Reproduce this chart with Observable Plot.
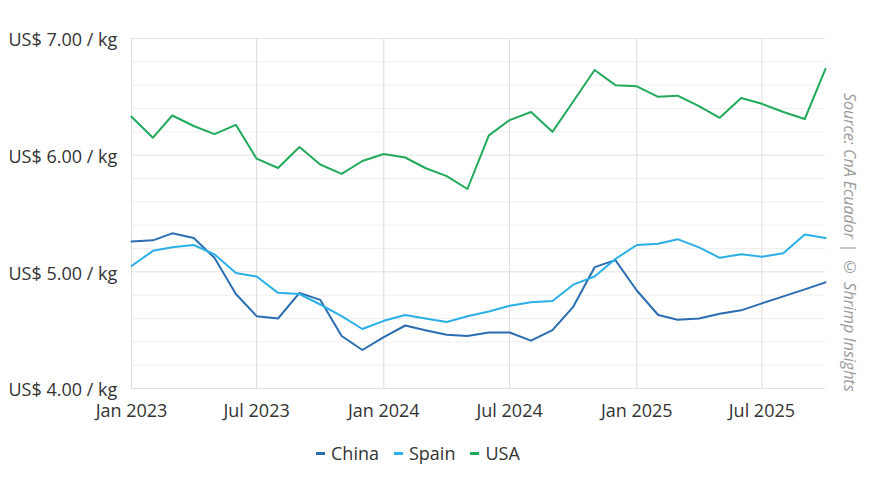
<!DOCTYPE html>
<html><head><meta charset="utf-8">
<script src="https://cdn.jsdelivr.net/npm/d3@7"></script>
<script src="https://cdn.jsdelivr.net/npm/@observablehq/plot@0.6"></script>
<style>
body{margin:0;background:#fff;font-family:"Open Sans",sans-serif;}
#wrap{position:relative;width:870px;height:489px;overflow:hidden;}
#legend{position:absolute;left:316px;top:441px;display:flex;align-items:center;font-size:18px;color:#333;line-height:24px;}
#legend .item{display:flex;align-items:center;margin-right:15px;}
#legend .sw{width:9px;height:3px;margin-right:6px;}
#source{position:absolute;left:841px;top:93px;writing-mode:vertical-rl;font-style:italic;font-size:16px;line-height:18px;color:#9a9a9a;white-space:nowrap;}
</style></head><body>
<div id="wrap"><div id="chart"></div><div id="legend"></div><div id="source">Source: CnA Ecuador | © Shrimp Insights</div></div>
<script>
const months = ["2023-01","2023-02","2023-03","2023-04","2023-05","2023-06","2023-07","2023-08","2023-09","2023-10","2023-11","2023-12",
"2024-01","2024-02","2024-03","2024-04","2024-05","2024-06","2024-07","2024-08","2024-09","2024-10","2024-11","2024-12",
"2025-01","2025-02","2025-03","2025-04","2025-05","2025-06","2025-07","2025-08","2025-09","2025-10"];
const china = [5.26,5.27,5.33,5.29,5.12,4.81,4.62,4.60,4.82,4.76,4.45,4.33,
4.44,4.54,4.50,4.46,4.45,4.48,4.48,4.41,4.50,4.70,5.04,5.10,
4.84,4.63,4.59,4.60,4.64,4.67,4.73,4.79,4.85,4.91];
const spain = [5.05,5.18,5.21,5.23,5.15,4.99,4.96,4.82,4.81,4.72,4.62,4.51,
4.58,4.63,4.60,4.57,4.62,4.66,4.71,4.74,4.75,4.89,4.96,5.11,
5.23,5.24,5.28,5.21,5.12,5.15,5.13,5.16,5.32,5.29];
const usa = [6.33,6.15,6.34,6.25,6.18,6.26,5.97,5.89,6.07,5.92,5.84,5.95,
6.01,5.98,5.89,5.82,5.71,6.17,6.30,6.37,6.20,6.46,6.73,6.60,
6.59,6.50,6.51,6.42,6.32,6.49,6.44,6.37,6.31,6.74];
const seriesNames = ["China","Spain","USA"];
const seriesColors = ["#2a6db1","#2ab0e7","#21aa5c"];
const yTicks = [4,5,6,7];
const yTickLabels = ["US$ 4.00 / kg","US$ 5.00 / kg","US$ 6.00 / kg","US$ 7.00 / kg"];
const yMinorTicks = [4.2,4.4,4.6,4.8,5.2,5.4,5.6,5.8,6.2,6.4,6.6,6.8];
const xTicks = ["2023-01","2023-07","2024-01","2024-07","2025-01","2025-07"];
const xTickLabels = ["Jan 2023","Jul 2023","Jan 2024","Jul 2024","Jan 2025","Jul 2025"];

const parse = d3.utcParse("%Y-%m");
const data = [];
[china, spain, usa].forEach((vals, k) => vals.forEach((v, i) => data.push({date: parse(months[i]), value: v, series: seriesNames[k]})));
const xTickDates = xTicks.map(parse);
const xStart = parse(months[0]), xEnd = parse(months[months.length - 1]);

const chart = Plot.plot({
  width: 870, height: 428,
  marginTop: 38, marginBottom: 40, marginLeft: 131, marginRight: 45,
  style: {fontFamily: "'Open Sans', sans-serif", fontSize: "18px", color: "#333", background: "#fff", overflow: "visible"},
  x: {type: "utc", domain: [xStart, xEnd]},
  y: {domain: [4, 7]},
  color: {domain: seriesNames, range: seriesColors},
  marks: [
    Plot.ruleY(yMinorTicks, {stroke: "#eeeeee", strokeWidth: 1}),
    Plot.ruleY(yTicks, {stroke: "#e2e2e2", strokeWidth: 1}),
    Plot.ruleX(xTickDates, {stroke: "#dcdcdc", strokeWidth: 1}),
    Plot.line(data, {x: "date", y: "value", z: "series", stroke: "series", strokeWidth: 2, curve: "linear"}),
    Plot.axisY(yTicks, {tickSize: 0, tickPadding: 0, textAnchor: "start", dx: -123, dy: 2, fill: "#333", label: null,
      tickFormat: d => yTickLabels[yTicks.indexOf(d)]}),
    Plot.axisX(xTickDates, {tickSize: 0, tickPadding: 16, fill: "#333", label: null,
      tickFormat: d => xTickLabels[xTickDates.findIndex(t => +t === +d)]})
  ]
});
document.getElementById("chart").appendChild(chart);

const legend = document.getElementById("legend");
seriesNames.forEach((n, i) => {
  const it = document.createElement("div"); it.className = "item";
  const sw = document.createElement("span"); sw.className = "sw"; sw.style.background = seriesColors[i];
  const tx = document.createElement("span"); tx.textContent = n;
  it.appendChild(sw); it.appendChild(tx); legend.appendChild(it);
});
</script>
</body></html>
